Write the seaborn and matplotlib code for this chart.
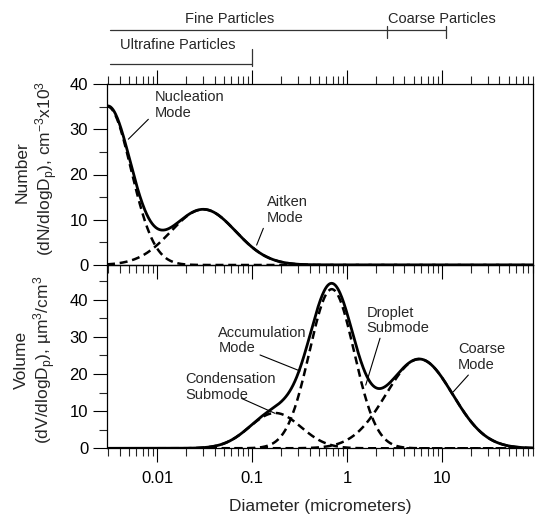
import numpy as np
import pandas as pd
import matplotlib
matplotlib.use("Agg")
import matplotlib.pyplot as plt
import matplotlib.transforms as mtransforms
from matplotlib.ticker import LogLocator, MultipleLocator, FixedLocator, FixedFormatter, NullFormatter
import seaborn as sns

# ---------------- data ----------------
# Number distribution modes (top panel): median diameter (um), peak height (x10^3 cm^-3), log10 width
number_mode_names = ["Nucleation", "Aitken"]
number_mode_dpg = [0.00300, 0.0305]
number_mode_peak = [35.0, 12.3]
number_mode_logsd = [0.245, 0.34]

# Volume distribution modes (bottom panel): median diameter (um), peak height (um^3/cm^3), log10 width
volume_mode_names = ["Condensation", "Droplet", "Coarse"]
volume_mode_dpg = [0.174, 0.686, 5.73]
volume_mode_peak = [9.5, 42.8, 24.0]
volume_mode_logsd = [0.27, 0.235, 0.35]

# size-range brackets (um)
ultrafine_range = [0.0032, 0.1]
fine_range = [0.0032, 2.6]
coarse_range = [2.6, 11.0]

x_tick_values = [0.01, 0.1, 1, 10]
x_tick_labels = ["0.01", "0.1", "1", "10"]
y_tick_values = [0, 10, 20, 30, 40]

# ---------------- build curves ----------------
diam = np.logspace(-2.53, 1.96, 700)


def mode_curves(names, dpg, peak, logsd):
    rows = []
    total = np.zeros_like(diam)
    for n, d, h, s in zip(names, dpg, peak, logsd):
        y = h * np.exp(-(np.log10(diam) - np.log10(d)) ** 2 / (2 * s ** 2))
        total += y
        rows.append(pd.DataFrame({"diameter": diam, "value": y, "series": n}))
    rows.append(pd.DataFrame({"diameter": diam, "value": total, "series": "Total"}))
    return pd.concat(rows, ignore_index=True)


num_df = mode_curves(number_mode_names, number_mode_dpg, number_mode_peak, number_mode_logsd)
vol_df = mode_curves(volume_mode_names, volume_mode_dpg, volume_mode_peak, volume_mode_logsd)

# ---------------- style ----------------
sns.set_theme(style="ticks")
plt.rcParams["font.family"] = ["Liberation Sans", "DejaVu Sans"]
plt.rcParams["mathtext.fontset"] = "custom"
plt.rcParams["mathtext.rm"] = "Liberation Sans"
plt.rcParams["mathtext.it"] = "Liberation Sans:italic"
plt.rcParams["mathtext.bf"] = "Liberation Sans:bold"
plt.rcParams["axes.linewidth"] = 0.9

W, H = 537, 517
fig = plt.figure(figsize=(W / 100, H / 100), dpi=100)
fig.patch.set_facecolor("white")

ax1 = fig.add_axes([107 / W, 1 - 265 / H, (533 - 107) / W, (265 - 84) / H])
ax2 = fig.add_axes([107 / W, 1 - 448.3 / H, (533 - 107) / W, (448.3 - 265) / H])

for ax, df, names in [(ax1, num_df, number_mode_names), (ax2, vol_df, volume_mode_names)]:
    ax.set_facecolor("none")
    for n in names:
        sub = df[df["series"] == n]
        sns.lineplot(data=sub, x="diameter", y="value", ax=ax, color="black",
                     lw=1.8, estimator=None, sort=False,
                     linestyle=(0, (3.2, 1.9)))
    sub = df[df["series"] == "Total"]
    sns.lineplot(data=sub, x="diameter", y="value", ax=ax, color="black",
                 lw=2.0, estimator=None, sort=False)
    ax.set_xscale("log")
    ax.set_xlim(10 ** -2.53, 10 ** 1.955)
    ax.set_xlabel("")
    ax.set_ylabel("")
    for sp in ax.spines.values():
        sp.set_visible(True)
        sp.set_color("black")
        sp.set_linewidth(0.9)
    ax.xaxis.set_major_locator(FixedLocator(x_tick_values))
    ax.xaxis.set_minor_locator(LogLocator(base=10, subs=np.arange(2, 10), numticks=20))
    ax.xaxis.set_minor_formatter(NullFormatter())
    ax.yaxis.set_major_locator(FixedLocator(y_tick_values))
    ax.yaxis.set_minor_locator(MultipleLocator(5))
    ax.tick_params(axis="y", which="major", direction="out", length=10, width=0.8,
                   left=True, right=False, labelsize=12, pad=3.5, colors="black")
    ax.tick_params(axis="y", which="minor", direction="out", length=5.5, width=0.8,
                   left=True, right=False)
    ax.tick_params(axis="x", which="major", direction="out", length=10, width=0.8,
                   bottom=True, labelsize=12, pad=6, colors="black")
    ax.tick_params(axis="x", which="minor", direction="out", length=5.5, width=0.8, bottom=True)

ax1.set_ylim(0, 40)
ax2.set_ylim(0, 49.3)

ax1.tick_params(axis="x", which="both", top=True, labelbottom=False)
ax2.tick_params(axis="x", which="both", top=False)
ax2.xaxis.set_major_formatter(FixedFormatter(x_tick_labels))

# y labels (two lines each)
fig.text(21.7 / W, 1 - 172 / H, "Number", rotation=90, ha="center", va="center", fontsize=12.5)
fig.text(46.7 / W, 1 - 168 / H,
         r"(dN/dlogD$_\mathregular{p}$), cm$^\mathregular{-3}$x10$^\mathregular{3}$",
         rotation=90, ha="center", va="center", fontsize=12.5)
fig.text(21 / W, 1 - 360 / H, "Volume", rotation=90, ha="center", va="center", fontsize=12.5)
fig.text(45 / W, 1 - 360 / H,
         r"(dV/dlogD$_\mathregular{p}$), µm$^\mathregular{3}$/cm$^\mathregular{3}$",
         rotation=90, ha="center", va="center", fontsize=12.5)

fig.text(320 / W, 1 - 507 / H, "Diameter (micrometers)", ha="center", va="center", fontsize=12.5)


def note(ax, text, txy, p0, p1):
    ax.text(txy[0], txy[1], text, fontsize=10.5, ha="left", va="top", linespacing=1.15)
    ax.annotate("", xy=p1, xytext=p0,
                arrowprops=dict(arrowstyle="-", color="black", lw=0.8, shrinkA=0, shrinkB=0))


note(ax1, "Nucleation\nMode", (0.00929, 38.6), (0.00804, 32.2), (0.00495, 27.8))
note(ax1, "Aitken\nMode", (0.1419, 15.4), (0.1306, 8.1), (0.111, 4.4))
note(ax2, "Accumulation\nMode", (0.0439, 33.0), (0.1205, 25.1), (0.3177, 20.8))
note(ax2, "Droplet\nSubmode", (1.60, 38.4), (2.21, 29.6), (1.563, 17.0))
note(ax2, "Coarse\nMode", (14.6, 28.5), (18.8, 19.7), (13.06, 15.2))
note(ax2, "Condensation\nSubmode", (0.0196, 20.4), (0.0773, 13.4), (0.1734, 9.4))

# size-range brackets above the top panel
tr = mtransforms.blended_transform_factory(ax1.transData, ax1.transAxes)
lkw = dict(color="#333333", lw=0.9, transform=tr, clip_on=False)
ax1.plot(fine_range, [1.298, 1.298], **lkw)
ax1.plot(coarse_range, [1.298, 1.298], **lkw)
ax1.plot([fine_range[1]] * 2, [1.254, 1.320], **lkw)
ax1.plot([coarse_range[1]] * 2, [1.254, 1.320], **lkw)
ax1.plot(ultrafine_range, [1.1105, 1.1105], **lkw)
ax1.plot([ultrafine_range[1]] * 2, [1.1, 1.193], **lkw)
ax1.text(0.0582, 1.359, "Fine Particles", transform=tr, ha="center", va="center", fontsize=10.5)
ax1.text(2.68, 1.359, "Coarse Particles", transform=tr, ha="left", va="center", fontsize=10.5)
ax1.text(0.0163, 1.2155, "Ultrafine Particles", transform=tr, ha="center", va="center", fontsize=10.5)

fig.savefig("out.png", dpi=100, facecolor="white")
